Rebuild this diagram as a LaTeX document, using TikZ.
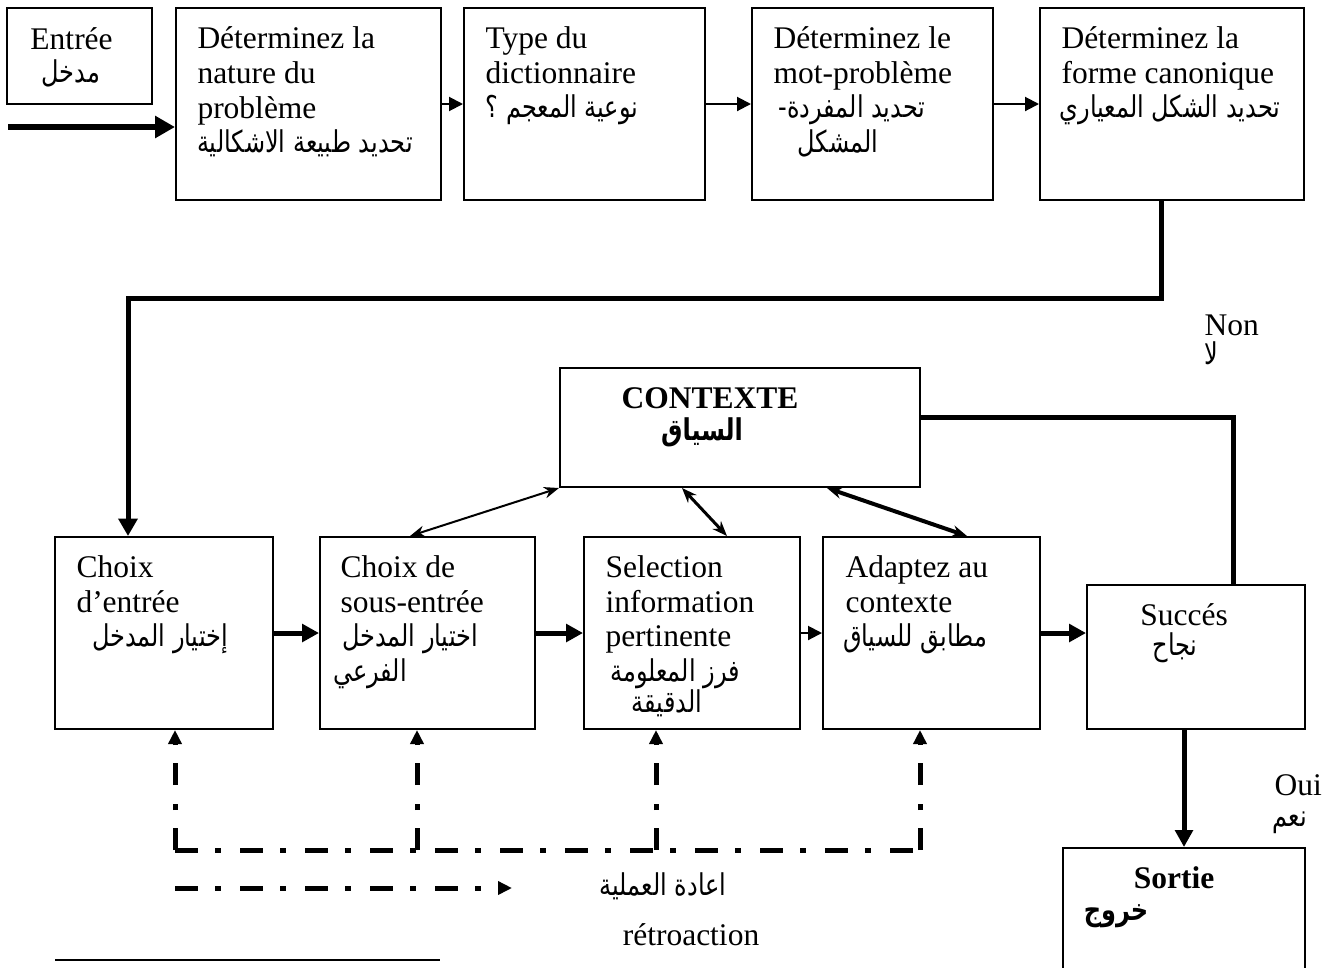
\documentclass[tikz,border=0pt]{standalone}
\usepackage{fontspec}
\setmainfont{Liberation Serif}
\newfontfamily\arabicfont[Script=Arabic,FakeStretch=0.8]{DejaVu Sans}
\TeXXeTstate=1
\usetikzlibrary{arrows.meta,calc}
% Arabic line, set right to left
\newcommand\artxt[1]{{\arabicfont\fontsize{12}{14}\selectfont\beginR #1\endR}}

\begin{document}
\begin{tikzpicture}[x=0.4pt,y=-0.4pt,
  bx/.style 2 args={draw,line width=0.8pt,inner sep=0pt,
    minimum width=#1*0.4pt,minimum height=#2*0.4pt},
  lbl/.style={inner sep=0pt,anchor=base west,font=\fontsize{12.6}{13.6}\selectfont},
  clbl/.style={lbl,anchor=base},
  arl/.style={inner sep=0pt,anchor=base},
  thinarrow/.style={line width=0.8pt,-{Triangle[length=5.6pt,width=5.6pt]}},
  thkarrow/.style={line width=2pt,-{Triangle[length=6.8pt,width=7pt]}},
  thkline/.style={line width=2pt},
  dbl/.style={line width=#1,{Stealth[length=6pt,width=4.6pt]}-{Stealth[length=6pt,width=4.6pt]}},
  fbline/.style={line width=2pt,dash pattern=on 9pt off 7pt on 2.4pt off 7.6pt},
  fbarrow/.style={fbline,-{Triangle[length=5.6pt,width=5.2pt]}},
]
\useasboundingbox (0,0) rectangle (1338,967);

% ---- top row
\node[bx={145}{96}]  (entree) at (79.5,56) {};
\node[bx={265}{192}] (nat) at (308.5,104) {};
\node[bx={241}{192}] (typ) at (584.5,104) {};
\node[bx={241}{192}] (mot) at (872.5,104) {};
\node[bx={264}{192}] (can) at (1172,104) {};

\node[lbl] (t-entree) at (30,49) {Entrée};
\node[arl] (a-entree) at (71,82) {\artxt{مدخل}};

\node[lbl] (t-nat1) at (197,48) {Déterminez la};
\node[lbl] (t-nat2) at (197,83) {nature du};
\node[lbl] (t-nat3) at (197,118) {problème};
\node[arl] (a-nat) at (305,152) {\artxt{تحديد طبيعة الاشكالية}};

\node[lbl] (t-typ1) at (485,48) {Type du};
\node[lbl] (t-typ2) at (485,83) {dictionnaire};
\node[arl] (a-typ) at (562,117) {\artxt{نوعية المعجم ؟}};

\node[lbl] (t-mot1) at (773,48) {Déterminez le};
\node[lbl] (t-mot2) at (773,83) {mot-problème};
\node[arl] (a-mot1) at (852,117) {\artxt{تحديد المفردة-}};
\node[arl] (a-mot2) at (838,152) {\artxt{المشكل}};

\node[lbl] (t-can1) at (1061,48) {Déterminez la};
\node[lbl] (t-can2) at (1061,83) {forme canonique};
\node[arl] (a-can) at (1170,117) {\artxt{تحديد الشكل المعياري}};

% ---- context box
\node[bx={360}{119}] (ctx) at (740,427.5) {};
\node[clbl,font=\fontsize{12.6}{13.6}\selectfont\bfseries] (t-ctx) at (710,408) {CONTEXTE};
\node[arl] (a-ctx) at (702,440) {\bfseries\artxt{السياق}};

% ---- lower row
\node[bx={218}{192}] (cho) at (164,633) {};
\node[bx={215}{192}] (sous) at (427.5,633) {};
\node[bx={216}{192}] (sel) at (692,633) {};
\node[bx={217}{192}] (ada) at (931.5,633) {};
\node[bx={218}{144}] (suc) at (1196,657) {};
\node[bx={242}{142}] (sor) at (1184,919) {};

\node[lbl] (t-cho1) at (76,577) {Choix};
\node[lbl] (t-cho2) at (76,612) {d’entrée};
\node[arl] (a-cho) at (160,646) {\artxt{إختيار المدخل}};

\node[lbl] (t-sous1) at (340,577) {Choix de};
\node[lbl] (t-sous2) at (340,612) {sous-entrée};
\node[arl] (a-sous1) at (410,646) {\artxt{اختيار المدخل}};
\node[arl] (a-sous2) at (370,681) {\artxt{الفرعي}};

\node[lbl] (t-sel1) at (605,577) {Selection};
\node[lbl] (t-sel2) at (605,612) {information};
\node[lbl] (t-sel3) at (605,646) {pertinente};
\node[arl] (a-sel1) at (675,681) {\artxt{فرز  المعلومة}};
\node[arl] (a-sel2) at (667,712) {\artxt{الدقيقة}};

\node[lbl] (t-ada1) at (845,577) {Adaptez au};
\node[lbl] (t-ada2) at (845,612) {contexte};
\node[arl] (a-ada) at (915,646) {\artxt{مطابق للسياق}};

\node[clbl] (t-suc) at (1184,625) {Succés};
\node[arl] (a-suc) at (1175,655) {\artxt{نجاح}};

\node[clbl,font=\fontsize{12.6}{13.6}\selectfont\bfseries] (t-sor) at (1174,888) {Sortie};
\node[arl] (a-sor) at (1116,920) {\bfseries\artxt{خروج}};

% ---- side labels
\node[lbl] (t-non) at (1204,335) {Non};
\node[arl,anchor=base west] (a-non) at (1204,364) {\artxt{لا}};
\node[lbl] (t-oui) at (1274,795) {Oui};
\node[arl] (a-oui) at (1290,826) {\artxt{نعم}};

% ---- legend
\node[arl] (a-leg) at (663,895) {\artxt{اعادة العملية}};
\node[clbl] (t-leg) at (691,945) {rétroaction};

% ---- connectors, top row
\coordinate (start) at (8,127);
\draw[line width=2.4pt,-{Triangle[length=8pt,width=8.5pt]}] (start) -- (start -| nat.west);
\draw[thinarrow] (nat.east) -- (typ.west);
\draw[thinarrow] (typ.east) -- (mot.west);
\draw[thinarrow] (mot.east) -- (can.west);

% return to the lower row
\draw[thkline,-{Triangle[length=7pt,width=7.5pt]}]
  ($(can.south)+(-11,0)$) -- ++(0,97) -| ($(cho.north)+(-36,0)$);

% lower row
\draw[thkarrow] (cho.east) -- (sous.west);
\draw[thkarrow] (sous.east) -- (sel.west);
\draw[thinarrow] (sel.east) -- (ada.west);
\draw[thkarrow] (ada.east) -- (ada.east -| suc.west);

% context links
\draw[dbl=0.8pt] (ctx.south west) -- ($(sous.north)+(-17.5,0)$);
\draw[dbl=1.2pt] ($(ctx.south)+(-58,0)$) -- ($(sel.north)+(35,0)$);
\draw[dbl=1.6pt] ($(ctx.south)+(87,0)$) -- ($(ada.north)+(35.5,0)$);
\draw[thkline] ($(ctx.east)+(0,-10)$) -| ($(suc.north)+(37,0)$);

% success to output
\draw[thkarrow] ($(suc.south)+(-12,0)$) -- (sor.north);

% feedback loop
\coordinate (fbA) at (175,850);
\coordinate (fbB) at (417,850);
\coordinate (fbC) at (656,850);
\coordinate (fbD) at (920,850);
\draw[fbline] (fbA) -- (fbD);
\draw[fbarrow] (fbA) -- (fbA |- cho.south);
\draw[fbarrow] (fbB) -- (fbB |- sous.south);
\draw[fbarrow] (fbC) -- (fbC |- sel.south);
\draw[fbarrow] (fbD) -- (fbD |- ada.south);

% legend line and rule
\coordinate (legA) at (175,888);
\coordinate (legB) at (512,888);
\draw[fbarrow] (legA) -- (legB);
\coordinate (ruleA) at (55,960);
\coordinate (ruleB) at (440,960);
\draw[line width=0.9pt] (ruleA) -- (ruleB);
\end{tikzpicture}
\end{document}
